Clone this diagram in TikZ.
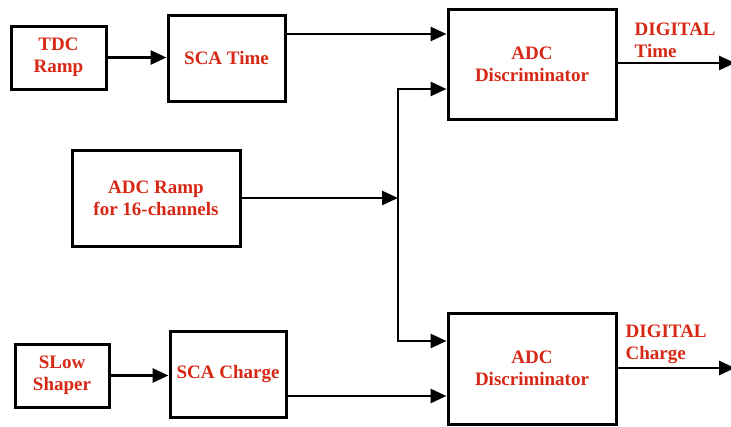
\documentclass[tikz,border=0pt]{standalone}
\usepackage{fontspec}
\setmainfont{Liberation Serif}
\usepackage{xcolor}
\usepackage{tikz}
\usetikzlibrary{arrows.meta,positioning,calc}
\definecolor{LblRed}{RGB}{214,40,20}

\begin{document}
\begin{tikzpicture}[
  x=1pt,y=-1pt,
  bbox/.style={rectangle,draw=black,line width=3pt,fill=white,
    align=center,font=\fontsize{19}{22}\selectfont\bfseries,text=LblRed,inner sep=0pt},
  lbl/.style={align=left,font=\fontsize{19}{22}\selectfont\bfseries,text=LblRed,inner sep=0pt},
  arr/.style={-{Triangle[length=16pt,width=14pt]},line width=2.7pt,color=black}
]
\useasboundingbox (0,0) rectangle (731,426);
\node[bbox,minimum width=95pt,minimum height=63pt] (tdc) at (58.5,57.5) {TDC\\Ramp};
\node[bbox,minimum width=117pt,minimum height=86pt] (scat) at (226.5,58) {SCA Time};
\node[bbox,minimum width=168pt,minimum height=110pt] (adct) at (532,64) {ADC\\Discriminator};
\node[bbox,minimum width=168pt,minimum height=96pt] (ramp) at (156,198) {ADC Ramp\\for 16-channels};
\node[bbox,minimum width=94pt,minimum height=63pt] (slow) at (62,375.5) {SLow\\Shaper};
\node[bbox,minimum width=116pt,minimum height=86pt] (scac) at (228,374) {SCA Charge};
\node[bbox,minimum width=168pt,minimum height=111pt] (adcb) at (532,368.5) {ADC\\Discriminator};

\node[lbl,above right=6pt and 17pt of adct.east] (dt) {DIGITAL\\Time};
\node[lbl,above right=5pt and 8pt of adcb.east] (dc) {DIGITAL\\Charge};

\coordinate (j) at (398,198);
\coordinate (tout) at (735,63);
\coordinate (cout) at (735,368);

\draw[arr](tdc)--(tdc -| scat.west);\draw[arr](slow)--(slow -| scac.west);
\draw[arr]([yshift=24pt]scat.east)--([yshift=24pt]scat.east -| adct.west);
\draw[arr]([yshift=-22pt]scac.east)--([yshift=-22pt]scac.east -| adcb.west);
\draw[arr](ramp.east)--(j);
\draw[arr](j)|-([yshift=-25pt]adct.west);
\draw[arr](j)|-([yshift=27.5pt]adcb.west);
\draw[arr](adct.east |- tout)--(tout);
\draw[arr](adcb.east |- cout)--(cout);
\end{tikzpicture}
\end{document}
